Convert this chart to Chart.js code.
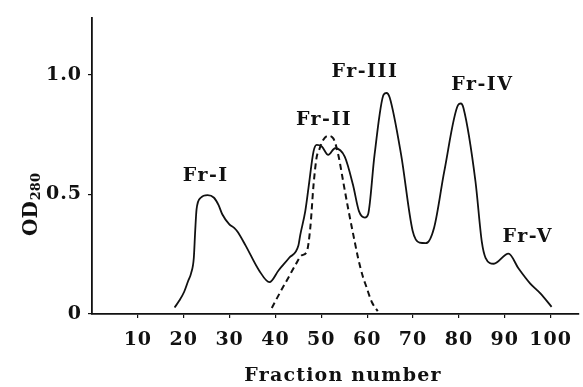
<!DOCTYPE html>
<html>
<head>
<meta charset="utf-8">
<script src="https://cdn.jsdelivr.net/npm/chart.js@4/dist/chart.umd.min.js"></script>
<style>
  body { margin: 0; background: #fff; }
  canvas { display: block; }
</style>
</head>
<body>
<canvas id="elutionChart" width="583" height="387"></canvas>
<script>
// ===== DATI =====
// curva continua (OD280)
const fractions = [18.0, 19.0, 20.1, 21.0, 21.6, 22.2, 22.5, 22.8, 23.7, 25.2, 26.6, 27.6, 28.4, 29.9, 31.0, 31.7, 33.5, 36.4, 38.7, 40.7, 43.0, 45.0, 45.4, 46.5, 47.2, 48.3, 49.0, 50.1, 51.5, 53.0, 55.1, 56.9, 58.2, 59.5, 60.2, 61.6, 63.6, 64.2, 64.9, 67.4, 69.9, 71.4, 72.8, 74.6, 76.8, 79.8, 80.4, 81.0, 83.6, 85.0, 85.8, 87.6, 90.8, 93.0, 95.5, 97.7, 100.2];
const od280 = [0.027, 0.055, 0.093, 0.14, 0.17, 0.235, 0.348, 0.438, 0.486, 0.497, 0.486, 0.455, 0.417, 0.376, 0.36, 0.345, 0.286, 0.183, 0.133, 0.183, 0.235, 0.286, 0.33, 0.43, 0.527, 0.68, 0.707, 0.70, 0.665, 0.693, 0.658, 0.54, 0.43, 0.403, 0.417, 0.665, 0.918, 0.924, 0.905, 0.665, 0.348, 0.298, 0.296, 0.362, 0.596, 0.873, 0.88, 0.86, 0.555, 0.30, 0.235, 0.21, 0.252, 0.19, 0.128, 0.087, 0.03];

// curva tratteggiata
const dashFractions = [39.2, 41.0, 42.9, 44.5, 45.7, 46.8, 47.6, 48.3, 49.0, 49.4, 50.4, 51.4, 52.6, 53.7, 54.8, 55.8, 57.3, 58.0, 59.0, 59.8, 61.0, 62.3];
const dashOd = [0.025, 0.09, 0.155, 0.21, 0.245, 0.259, 0.362, 0.54, 0.658, 0.68, 0.727, 0.745, 0.734, 0.665, 0.55, 0.445, 0.30, 0.235, 0.16, 0.115, 0.05, 0.012];

// etichette dei picchi
const peakNames = ["Fr-I", "Fr-II", "Fr-III", "Fr-IV", "Fr-V"];
const peakX = [24.8, 50.6, 59.5, 85.1, 95.0];
const peakY = [0.576, 0.81, 1.01, 0.956, 0.32];

// tick
const xTicks = [10, 20, 30, 40, 50, 60, 70, 80, 90, 100];
const yTicks = [0, 0.5, 1.0];
const yTickLabels = ["0", "0.5", "1.0"];

const INK = "#111";
const SERIF = '"DejaVu Serif", serif';

// ===== PLUGIN: spaziatura lettere + testi =====
const textPlugin = {
  id: "textPlugin",
  beforeLayout(chart) {
    chart.ctx.letterSpacing = "1px";
  },
  beforeDraw(chart) {
    chart.ctx.letterSpacing = "1px";
  },
  afterDraw(chart) {
    const { ctx, chartArea, scales } = chart;
    ctx.save();
    ctx.fillStyle = INK;
    ctx.letterSpacing = "1.5px";
    ctx.textAlign = "center";
    ctx.textBaseline = "middle";

    // nomi frazioni
    ctx.font = "bold 19px " + SERIF;
    peakNames.forEach((name, i) => {
      ctx.fillText(name, scales.x.getPixelForValue(peakX[i]), scales.y.getPixelForValue(peakY[i]));
    });

    // titolo asse x
    ctx.letterSpacing = "1.2px";
    ctx.font = "bold 19px " + SERIF;
    ctx.fillText("Fraction number", chartArea.left + 251, 376);

    // titolo asse y: OD con pedice 280
    ctx.letterSpacing = "0px";
    ctx.translate(37, 205);
    ctx.rotate(-Math.PI / 2);
    ctx.textAlign = "left";
    ctx.textBaseline = "alphabetic";
    ctx.font = "bold 20px " + SERIF;
    const wOD = ctx.measureText("OD").width;
    ctx.font = "bold 13px " + SERIF;
    const wSub = ctx.measureText("280").width;
    const start = -(wOD + wSub) / 2;
    ctx.font = "bold 20px " + SERIF;
    ctx.fillText("OD", start, 0);
    ctx.font = "bold 13px " + SERIF;
    ctx.fillText("280", start + wOD + 1, 3);
    ctx.restore();
  },
};

// ===== GRAFICO =====
const ctx = document.getElementById("elutionChart").getContext("2d");
new Chart(ctx, {
  type: "line",
  data: {
    datasets: [
      {
        data: fractions.map((x, i) => ({ x, y: od280[i] })),
        borderColor: INK,
        borderWidth: 1.8,
        pointRadius: 0,
        cubicInterpolationMode: "monotone",
        fill: false,
      },
      {
        data: dashFractions.map((x, i) => ({ x, y: dashOd[i] })),
        borderColor: INK,
        borderWidth: 2,
        borderDash: [6, 4],
        pointRadius: 0,
        cubicInterpolationMode: "monotone",
        fill: false,
      },
    ],
  },
  options: {
    responsive: false,
    animation: false,
    layout: { padding: { left: 40, top: 14, right: 0, bottom: 0 } },
    plugins: {
      legend: { display: false },
      tooltip: { enabled: false },
    },
    scales: {
      x: {
        type: "linear",
        min: 0,
        max: 106,
        afterBuildTicks: (scale) => {
          scale.ticks = xTicks.map((v) => ({ value: v }));
        },
        afterFit: (scale) => {
          scale.height = 73;
        },
        grid: {
          display: true,
          drawOnChartArea: false,
          drawTicks: true,
          tickLength: 4,
          color: INK,
          lineWidth: 1.2,
        },
        border: { display: true, color: INK, width: 1.8 },
        ticks: {
          color: INK,
          padding: 11,
          maxRotation: 0,
          font: { family: SERIF, weight: "bold", size: 19 },
        },
      },
      y: {
        min: 0,
        max: 1.24,
        afterBuildTicks: (scale) => {
          scale.ticks = yTicks.map((v) => ({ value: v }));
        },
        afterFit: (scale) => {
          scale.width = 52;
        },
        grid: {
          display: true,
          drawOnChartArea: false,
          drawTicks: true,
          tickLength: 4,
          color: INK,
          lineWidth: 1.2,
        },
        border: { display: true, color: INK, width: 1.8 },
        ticks: {
          color: INK,
          padding: 6,
          font: { family: SERIF, weight: "bold", size: 19 },
          callback: (value) => yTickLabels[yTicks.indexOf(value)],
        },
      },
    },
  },
  plugins: [textPlugin],
});
</script>
</body>
</html>
